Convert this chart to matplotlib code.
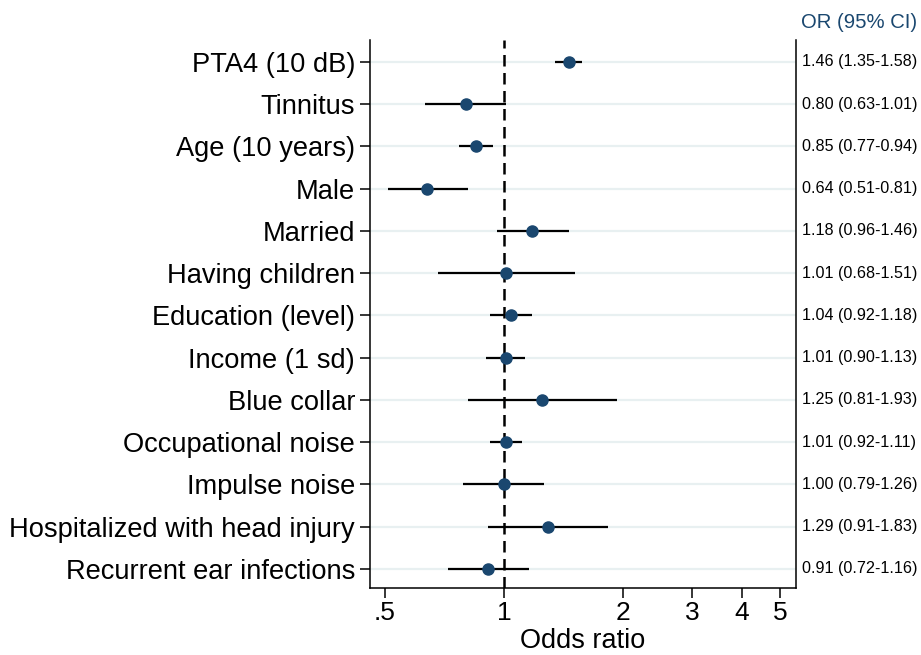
import matplotlib
matplotlib.use("Agg")
import matplotlib.pyplot as plt
import matplotlib.transforms as mtransforms

plt.rcParams['font.family'] = ['Liberation Sans', 'DejaVu Sans']

# odds ratios with 95% confidence intervals, top row first
labels = ["PTA4 (10 dB)", "Tinnitus", "Age (10 years)", "Male", "Married",
          "Having children", "Education (level)", "Income (1 sd)", "Blue collar",
          "Occupational noise", "Impulse noise", "Hospitalized with head injury",
          "Recurrent ear infections"]
odds = [1.46, 0.80, 0.85, 0.64, 1.18, 1.01, 1.04, 1.01, 1.25, 1.01, 1.00, 1.29, 0.91]
lower = [1.35, 0.63, 0.77, 0.51, 0.96, 0.68, 0.92, 0.90, 0.81, 0.92, 0.79, 0.91, 0.72]
upper = [1.58, 1.01, 0.94, 0.81, 1.46, 1.51, 1.18, 1.13, 1.93, 1.11, 1.26, 1.83, 1.16]

xticks = [0.5, 1, 2, 3, 4, 5]
xticklabels = [".5", "1", "2", "3", "4", "5"]

navy = "#1a476f"
n = len(labels)
ypos = list(range(n, 0, -1))

fig = plt.figure(figsize=(9.21, 6.55), dpi=100)
ax = fig.add_axes([0.4017, 0.1023, 0.4626, 0.8366])

for y in ypos:
    ax.axhline(y, color="#e8f0f1", lw=1.6, zorder=0)

ax.axvline(1, color="black", lw=1.8, dashes=(4.6, 2.6), zorder=1)
ax.hlines(ypos, lower, upper, color="black", lw=1.6, zorder=2)
ax.plot(odds, ypos, "o", color=navy, ms=8, zorder=3)

ax.set_xscale("log")
ax.set_xlim(0.458, 5.49)
ax.set_ylim(0.55, n + 0.52)
ax.set_xticks(xticks)
ax.set_xticklabels(xticklabels)
ax.minorticks_off()
ax.set_yticks(ypos)
ax.set_yticklabels(labels)
ax.tick_params(axis="y", length=7.2, width=1.1, pad=3.5, labelsize=19.6)
ax.tick_params(axis="x", length=7.2, width=1.1, pad=2, labelsize=19)
ax.set_xlabel("Odds ratio", fontsize=19.5, labelpad=2)

ax.spines["top"].set_visible(False)
for side in ["left", "right", "bottom"]:
    ax.spines[side].set_linewidth(1.1)

# OR (CI) text column on the right
trans = mtransforms.blended_transform_factory(ax.transAxes, ax.transData)
for y, o, lo, hi in zip(ypos, odds, lower, upper):
    ax.text(1.014, y, f"{o:.2f} ({lo:.2f}-{hi:.2f})", transform=trans,
            ha="left", va="center", fontsize=11.6)

fig.text(0.9957, 0.966, "OR (95% CI)", ha="right", va="center",
         fontsize=14.6, color=navy)

fig.savefig("out.png", dpi=100)
